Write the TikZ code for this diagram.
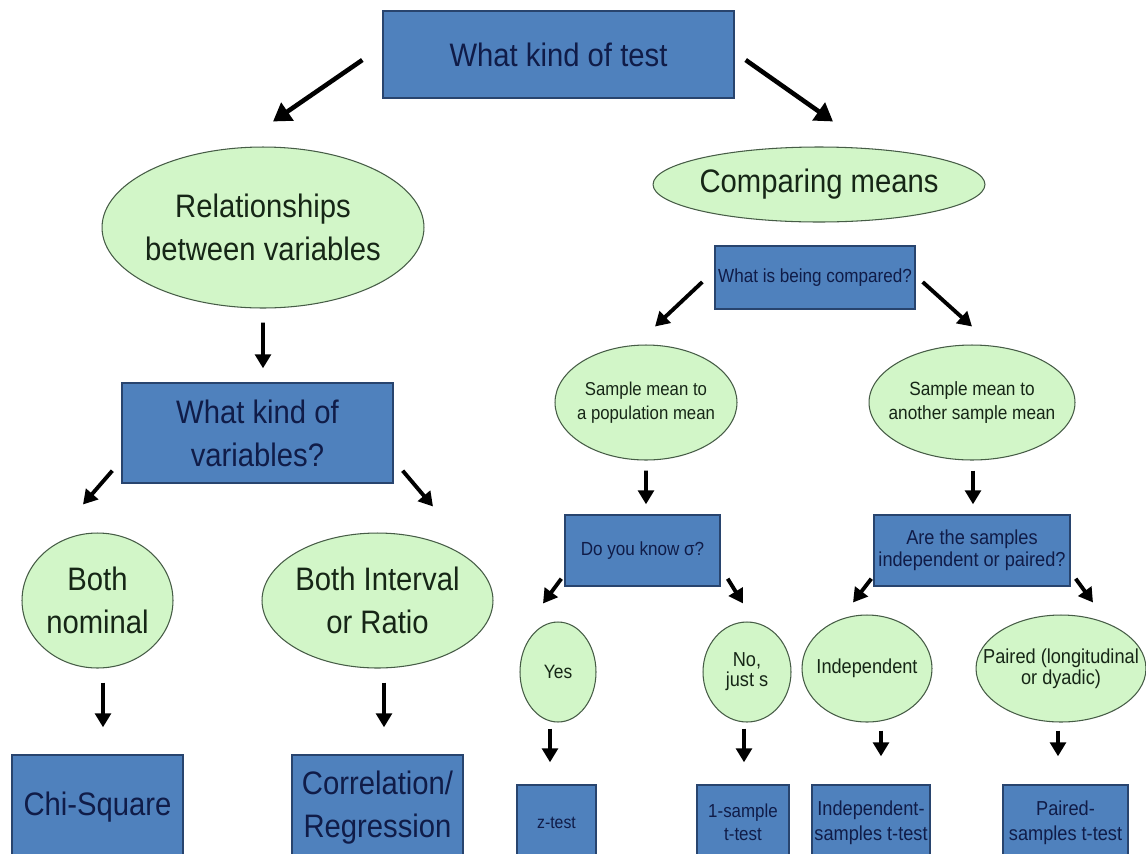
\documentclass[tikz,border=0pt]{standalone}
\usepackage{fontspec}
\setmainfont{Liberation Sans}[FakeStretch=0.9]
\usepackage{xcolor}
\usepackage{tikz}
\usetikzlibrary{shapes.geometric, arrows.meta, calc}

\definecolor{boxblue}{RGB}{79,129,189}
\definecolor{boxline}{RGB}{40,68,110}
\definecolor{boxtext}{RGB}{16,28,72}
\definecolor{ellgreen}{RGB}{210,246,200}
\definecolor{ellline}{RGB}{70,92,70}
\definecolor{elltext}{RGB}{22,38,22}
\newcommand{\txtbig}{\fontsize{18.5}{24.5}\selectfont}

\begin{document}
\begin{tikzpicture}[x=0.02cm, y=-0.02cm,
    qbox/.style={rectangle, draw=boxline, line width=0.8pt, fill=boxblue, text=boxtext, align=center, inner sep=0pt},
    qell/.style={ellipse, draw=ellline, line width=0.6pt, fill=ellgreen, text=elltext, align=center, inner xsep=-13pt, inner ysep=0pt},
    arr/.style={line width=2.2pt, -{Triangle[width=9pt,length=8pt]}},
    bigarr/.style={line width=2.6pt, -{Triangle[width=12pt,length=10pt]}}]
        % page frame
        \fill[white] (0,0) rectangle (1146,853);
        \useasboundingbox (0,0) rectangle (1146,853);

        % Top question
        \node[qbox, minimum width=7.02cm, minimum height=1.74cm, font=\txtbig] (test) at (558.5,54.5) {What kind of test};

        % Left branch: relationships
        \node[qell, minimum width=6.44cm, minimum height=3.22cm, font=\txtbig] (rel) at (263,227.5) {Relationships\\between variables};
        \node[qbox, minimum width=5.42cm, minimum height=2.0cm, font=\txtbig] (kindvar) at (257.5,433) {What kind of\\variables?};
        \node[qell, minimum width=3.02cm, minimum height=2.7cm, font=\txtbig] (nominal) at (97.5,600.5) {Both\\nominal};
        \node[qell, minimum width=4.62cm, minimum height=2.7cm, font=\txtbig] (interval) at (377.5,600.5) {Both Interval\\or Ratio};
        \node[qbox, minimum width=3.42cm, minimum height=2.1cm, font=\txtbig] (chisq) at (97.5,807.5) {Chi-Square};
        \node[qbox, minimum width=3.42cm, minimum height=2.1cm, font=\txtbig] (correl) at (377.5,807.5) {Correlation/\\Regression};

        % Right branch: comparing means
        \node[qell, minimum width=6.64cm, minimum height=1.5cm, font=\txtbig] (means) at (819,184.5) {Comparing means};
        \node[qbox, minimum width=4.0cm, minimum height=1.26cm, font={\fontsize{10.8}{13}\selectfont}] (compared) at (815,277.5) {What is being compared?};
        \node[qell, minimum width=3.64cm, minimum height=2.3cm, font={\fontsize{10.6}{13.6}\selectfont}] (popmean) at (646,402.5) {Sample mean to\\a population mean};
        \node[qell, minimum width=4.12cm, minimum height=2.3cm, font={\fontsize{10.9}{13.6}\selectfont}] (othermean) at (972,402.5) {Sample mean to\\another sample mean};
        \node[qbox, minimum width=3.1cm, minimum height=1.42cm, font={\fontsize{10.8}{13}\selectfont}] (knowsig) at (642.5,550.5) {Do you know σ?};
        \node[qbox, minimum width=3.92cm, minimum height=1.42cm, font={\fontsize{11.5}{12.5}\selectfont}] (indpair) at (972,550.5) {Are the samples\\independent or paired?};

        % Answers
        \node[qell, minimum width=1.52cm, minimum height=2.0cm, font={\fontsize{11}{12}\selectfont}] (yes) at (558,672) {Yes};
        \node[qell, minimum width=1.76cm, minimum height=2.0cm, font={\fontsize{11.5}{11.5}\selectfont}] (nojust) at (747,672) {No,\\just s};
        \node[qell, minimum width=2.6cm, minimum height=2.14cm, font={\fontsize{11.5}{12}\selectfont}] (indep) at (867,668.5) {Independent};
        \node[qell, minimum width=3.4cm, minimum height=2.14cm, font={\fontsize{11.5}{12}\selectfont}] (paired) at (1061,668.5) {Paired (longitudinal\\or dyadic)};

        % Tests
        \node[qbox, minimum width=1.58cm, minimum height=1.5cm, font={\fontsize{10}{12}\selectfont}] (ztest) at (556.5,822.5) {z-test};
        \node[qbox, minimum width=1.84cm, minimum height=1.5cm, font={\fontsize{10.7}{13}\selectfont}] (onesamp) at (743,822.5) {1-sample\\t-test};
        \node[qbox, minimum width=2.36cm, minimum height=1.5cm, font={\fontsize{11.5}{14}\selectfont}] (indtest) at (871,822.5) {Independent-\\samples t-test};
        \node[qbox, minimum width=2.5cm, minimum height=1.5cm, font={\fontsize{11.5}{14}\selectfont}] (pairtest) at (1065.5,822.5) {Paired-\\samples t-test};

        % Arrows
        \draw[bigarr] ($(test.west)+(-20,5.5)$) -- ($(rel.north)+(10,-25)$);
        \draw[bigarr] ($(test.east)+(11,5.5)$) -- ($(means.north)+(14,-25)$);
        \draw[arr] ($(rel.south)+(0,14)$) -- ($(kindvar.north)+(5.5,-14)$);
        \draw[arr] ($(kindvar.south west)+(-9,-13)$) -- ($(nominal.north)+(-14.5,-28)$);
        \draw[arr] ($(kindvar.south east)+(9,-13)$) -- ($(interval.north)+(55.5,-26)$);
        \draw[arr] ($(nominal.south)+(5.5,14)$) -- ($(chisq.north)+(5.5,-27)$);
        \draw[arr] ($(interval.south)+(6.5,14)$) -- ($(correl.north)+(6.5,-27)$);

        \draw[arr] ($(compared.west)+(-12,4.5)$) -- ($(popmean.north)+(9,-18)$);
        \draw[arr] ($(compared.east)+(7,4.5)$) -- ($(othermean.north)+(0,-18)$);
        \draw[arr] ($(popmean.south)+(0,10)$) -- ($(knowsig.north)+(3.5,-10)$);
        \draw[arr] ($(othermean.south)+(1,10)$) -- ($(indpair.north)+(1,-10)$);
        \draw[arr] ($(knowsig.south west)+(-3,-8)$) -- ($(yes.north)+(-15,-18)$);
        \draw[arr] ($(knowsig.south east)+(7,-8)$) -- ($(nojust.north)+(-4,-18)$);
        \draw[arr] ($(indpair.south west)+(-2,-8)$) -- ($(indep.north)+(-14,-12)$);
        \draw[arr] ($(indpair.south east)+(5,-8)$) -- ($(paired.north)+(32,-12)$);
        \draw[arr] ($(yes.south)+(-8,6)$) -- ($(ztest.north)+(-6.5,-22)$);
        \draw[arr] ($(nojust.south)+(-3,6)$) -- ($(onesamp.north)+(1,-22)$);
        \draw[arr] ($(indep.south)+(14,8)$) -- ($(indtest.north)+(10,-28)$);
        \draw[arr] ($(paired.south)+(-3,8)$) -- ($(pairtest.north)+(-7.5,-28)$);
    \end{tikzpicture}
\end{document}
